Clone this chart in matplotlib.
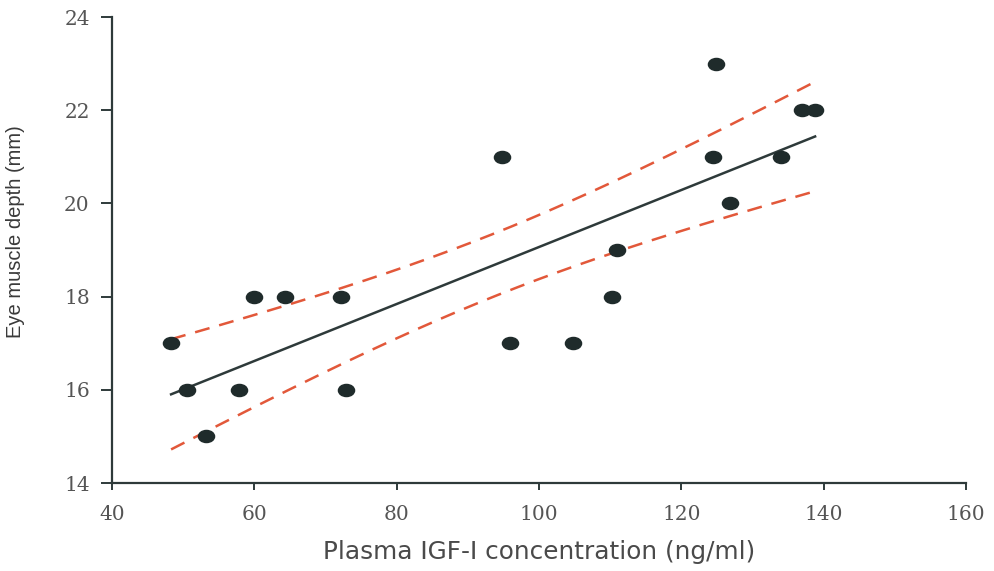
import matplotlib
matplotlib.use("Agg")
import matplotlib.pyplot as plt
from matplotlib.path import Path
from matplotlib.transforms import Affine2D
import numpy as np

# data
igf = [48.3, 50.5, 53.2, 57.8, 60.0, 64.3, 72.2, 72.9, 94.8, 95.9,
       104.8, 110.3, 111.0, 124.4, 124.9, 126.8, 134.0, 137.0, 138.8]
depth = [17, 16, 15, 16, 18, 18, 18, 16, 21, 17,
         17, 18, 19, 21, 23, 20, 21, 22, 22]
x_ticks = [40, 60, 80, 100, 120, 140, 160]
y_ticks = [14, 16, 18, 20, 22, 24]

x = np.array(igf)
y = np.array(depth)

# linear fit and 95% confidence band for the mean
slope, intercept = np.polyfit(x, y, 1)
n = len(x)
resid = y - (slope * x + intercept)
s = np.sqrt(np.sum(resid ** 2) / (n - 2))
t_val = 2.110  # t(0.975, 17)
xf = np.linspace(x.min(), x.max(), 200)
yf = slope * xf + intercept
se = s * np.sqrt(1 / n + (xf - x.mean()) ** 2 / np.sum((x - x.mean()) ** 2))

# slightly flattened dot
ellipse = Path.unit_circle().transformed(Affine2D().scale(1.0, 0.75))

fig = plt.figure(figsize=(9.94, 5.71), dpi=100)
ax = fig.add_axes([0.1127, 0.1541, 0.8591, 0.8161])

ax.plot(xf, yf, color="#2e3a3a", lw=1.8, zorder=2)
ax.plot(xf, yf + t_val * se, color="#e2583a", lw=1.8, dashes=(6, 4), zorder=2)
ax.plot(xf, yf - t_val * se, color="#e2583a", lw=1.8, dashes=(6, 4), zorder=2)
ax.scatter(x, y, s=135, marker=ellipse, color="#1f2b2b", zorder=3)

ax.set_xlim(40, 160)
ax.set_ylim(14, 24)
ax.set_xticks(x_ticks)
ax.set_yticks(y_ticks)
for side in ["top", "right"]:
    ax.spines[side].set_visible(False)
for side in ["left", "bottom"]:
    ax.spines[side].set_color("#2e3a3a")
    ax.spines[side].set_linewidth(1.6)
ax.tick_params(direction="out", width=1.4, color="#2e3a3a",
               labelsize=14.5, labelcolor="#555555")
ax.tick_params(axis="x", length=5, pad=11)
ax.tick_params(axis="y", length=8, pad=8)
for lab in ax.get_xticklabels() + ax.get_yticklabels():
    lab.set_family("DejaVu Serif")
    lab.set_fontweight("light")

ax.set_xlabel("Plasma IGF-I concentration (ng/ml)", family="DejaVu Sans",
              fontsize=17.8, color="#4a4a4a")
ax.xaxis.set_label_coords(0.5, -0.122)
ax.set_ylabel("Eye muscle depth (mm)", family="Liberation Sans",
              fontsize=14.5, color="#3a3a3a")
ax.yaxis.set_label_coords(-0.102, 0.54)

fig.savefig("out.png", dpi=100)
